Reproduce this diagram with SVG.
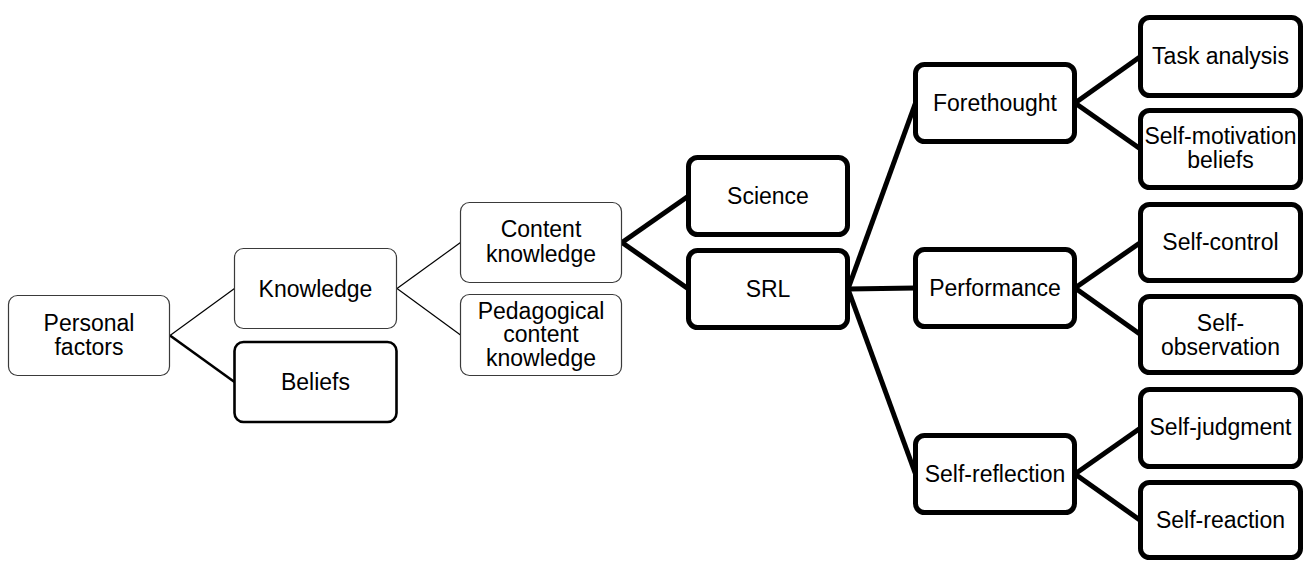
<svg xmlns="http://www.w3.org/2000/svg" width="1309" height="561" viewBox="0 0 1309 561">
<style>
.thin{fill:#fff;stroke:#3a3a3a;stroke-width:1.2}
.mid{fill:#fff;stroke:#000;stroke-width:2.6}
.thick{fill:#fff;stroke:#000;stroke-width:5}
text{font-family:"Liberation Sans",Arial,sans-serif;font-size:23px;fill:#000;text-anchor:middle}
.cthin{stroke:#000;stroke-width:1.2;fill:none}
.cmid{stroke:#000;stroke-width:2.6;fill:none}
.cthick{stroke:#000;stroke-width:5;fill:none}
</style>
<rect width="1309" height="561" fill="#fff"/>
<g id="connectors">
<line class="cthin" x1="170" y1="335.5" x2="234.5" y2="288.5"/>
<line class="cmid" x1="170" y1="335.5" x2="234.5" y2="382"/>
<line class="cthin" x1="397" y1="288.5" x2="460.5" y2="242.5"/>
<line class="cthin" x1="397" y1="288.5" x2="460.5" y2="335"/>
<line class="cthick" x1="622" y1="242.5" x2="688.5" y2="196"/>
<line class="cthick" x1="622" y1="242.5" x2="688.5" y2="289"/>
<line class="cthick" x1="848" y1="289" x2="915.5" y2="103"/>
<line class="cthick" x1="848" y1="289" x2="915.5" y2="288"/>
<line class="cthick" x1="848" y1="289" x2="915.5" y2="474"/>
<line class="cthick" x1="1075" y1="103" x2="1140.5" y2="56.5"/>
<line class="cthick" x1="1075" y1="103" x2="1140.5" y2="149"/>
<line class="cthick" x1="1075" y1="288" x2="1140.5" y2="242.5"/>
<line class="cthick" x1="1075" y1="288" x2="1140.5" y2="334.5"/>
<line class="cthick" x1="1075" y1="474" x2="1140.5" y2="428"/>
<line class="cthick" x1="1075" y1="474" x2="1140.5" y2="520.5"/>
</g>
<g id="personal-factors"><rect class="thin" x="8.5" y="295.5" width="161" height="80" rx="9"/><text x="89" y="330.5">Personal</text><text x="89" y="354.5">factors</text></g>
<g id="knowledge"><rect class="thin" x="234.5" y="248.5" width="162" height="80" rx="9"/><text x="315.5" y="296.5">Knowledge</text></g>
<g id="beliefs"><rect class="mid" x="234.5" y="342" width="162" height="80" rx="9"/><text x="315.5" y="390">Beliefs</text></g>
<g id="content-knowledge"><rect class="thin" x="460.5" y="202.5" width="161" height="80" rx="9"/><text x="541" y="237">Content</text><text x="541" y="261.5">knowledge</text></g>
<g id="pck"><rect class="thin" x="460.5" y="294.5" width="161" height="81" rx="9"/><text x="541" y="318.5">Pedagogical</text><text x="541" y="342">content</text><text x="541" y="365.5">knowledge</text></g>
<g id="science"><rect class="thick" x="688.5" y="157.5" width="159" height="77" rx="9"/><text x="768" y="204">Science</text></g>
<g id="srl"><rect class="thick" x="688.5" y="250.5" width="159" height="77" rx="9"/><text x="768" y="297">SRL</text></g>
<g id="forethought"><rect class="thick" x="915.5" y="64.5" width="159" height="77" rx="9"/><text x="995" y="111">Forethought</text></g>
<g id="performance"><rect class="thick" x="915.5" y="249.5" width="159" height="77" rx="9"/><text x="995" y="296">Performance</text></g>
<g id="self-reflection"><rect class="thick" x="915.5" y="435.5" width="159" height="77" rx="9"/><text x="995" y="482">Self-reflection</text></g>
<g id="task-analysis"><rect class="thick" x="1140.5" y="17.5" width="160" height="78" rx="9"/><text x="1220.5" y="64">Task analysis</text></g>
<g id="self-motivation"><rect class="thick" x="1140.5" y="110.5" width="160" height="77" rx="9"/><text x="1220.5" y="143.5">Self-motivation</text><text x="1220.5" y="167.5">beliefs</text></g>
<g id="self-control"><rect class="thick" x="1140.5" y="204.5" width="160" height="76" rx="9"/><text x="1220.5" y="250">Self-control</text></g>
<g id="self-observation"><rect class="thick" x="1140.5" y="296.5" width="160" height="76" rx="9"/><text x="1220.5" y="330.5">Self-</text><text x="1220.5" y="354.5">observation</text></g>
<g id="self-judgment"><rect class="thick" x="1140.5" y="389.5" width="160" height="77" rx="9"/><text x="1220.5" y="435">Self-judgment</text></g>
<g id="self-reaction"><rect class="thick" x="1140.5" y="482.5" width="160" height="75" rx="9"/><text x="1220.5" y="528">Self-reaction</text></g>
</svg>
